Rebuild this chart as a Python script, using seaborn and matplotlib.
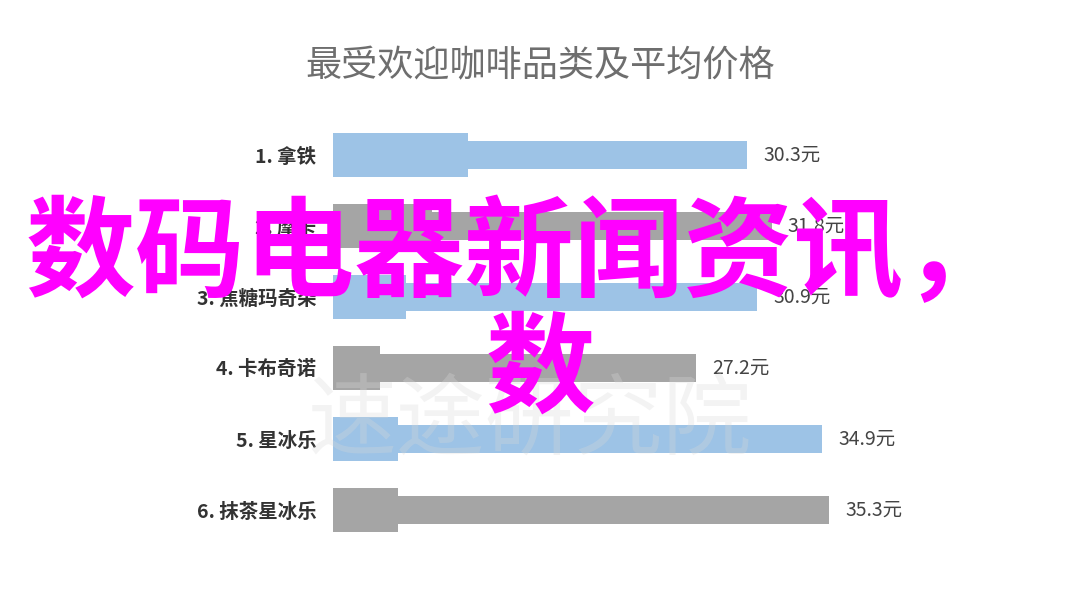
import pandas as pd
import seaborn as sns
import matplotlib.pyplot as plt

# data
items = ['1. 拿铁', '2. 摩卡', '3. 焦糖玛奇朵', '4. 卡布奇诺', '5. 星冰乐', '6. 抹茶星冰乐']
prices = [30.3, 31.8, 30.9, 27.2, 34.9, 35.3]
tab_ends = [13.3, 11.1, 9.5, 7.9, 9.0, 9.0]
bar_colors = ['#9dc3e6', '#a5a5a5', '#9dc3e6', '#a5a5a5', '#9dc3e6', '#a5a5a5']

title = '最受欢迎咖啡品类及平均价格'
overlay_line1 = '数码电器新闻资讯，'
overlay_line2 = '数'
watermark = '速途研究院'

df = pd.DataFrame({'item': items, 'price': prices, 'tab': tab_ends})

sns.set_style('white')
plt.rcParams['font.family'] = ['Noto Sans CJK SC', 'DejaVu Sans']

fig = plt.figure(figsize=(10.8, 6.08), dpi=100)
ax = fig.add_axes([333 / 1080, 1 - 545.5 / 608, 573 / 1080, 426 / 608])

palette = dict(zip(items, bar_colors))
sns.barplot(data=df, x='tab', y='item', hue='item', palette=palette,
            width=0.63, orient='h', legend=False, saturation=1,
            linewidth=0, ax=ax)
sns.barplot(data=df, x='price', y='item', hue='item', palette=palette,
            width=0.39, orient='h', legend=False, saturation=1,
            linewidth=0, ax=ax)

ax.set_xlim(5.06, 40)
ax.set_ylim(5.5, -0.5)
ax.patch.set_alpha(0)
for s in ax.spines.values():
    s.set_visible(False)
ax.set_xticks([])
ax.set_xlabel('')
ax.set_ylabel('')
ax.tick_params(axis='y', length=0, pad=12)
for lab in ax.get_yticklabels():
    lab.set_fontsize(14)
    lab.set_fontweight('bold')
    lab.set_color('#333333')

for i, v in enumerate(prices):
    ax.text(v + 1.0, i, f'{v}元', va='center', ha='left',
            fontsize=14, color='#444444')

# faint watermark over the chart
fig.text(0.49, 1 - 422 / 608, watermark, ha='center', va='center',
         fontsize=64, color='#d8d8d8', alpha=0.3)

fig.text(0.5, 1 - 66 / 608, title, ha='center', va='center',
         fontsize=26, color='#6e6e6e')

# magenta overlay text
fig.text(26 / 1080, 1 - 257 / 608, overlay_line1, ha='left', va='center',
         fontsize=79, fontweight='bold', color='#ff00ff', zorder=10)
fig.text(540 / 1080, 1 - 372 / 608, overlay_line2, ha='center', va='center',
         fontsize=79, fontweight='bold', color='#ff00ff', zorder=10)

fig.savefig('out.png', dpi=100)
